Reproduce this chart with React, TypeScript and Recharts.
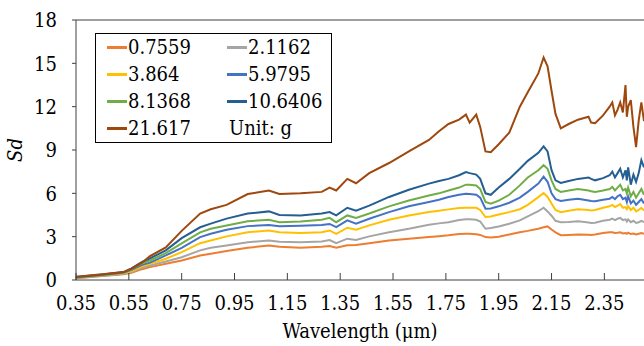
import { Legend, Line, LineChart, ReferenceLine, XAxis, YAxis } from 'recharts'

// 파장 (µm)
const WAVELENGTH = [
  0.35, 0.45, 0.53, 0.56, 0.6, 0.63, 0.69, 0.75, 0.82, 0.86,
  0.92, 1.0, 1.08, 1.12, 1.2, 1.28, 1.31, 1.335, 1.377, 1.41,
  1.46, 1.535, 1.61, 1.686, 1.724, 1.76, 1.8, 1.826, 1.84, 1.865,
  1.88, 1.9, 1.92, 1.95, 1.99, 2.03, 2.06, 2.1, 2.12, 2.135,
  2.15, 2.165, 2.185, 2.215, 2.25, 2.29, 2.3, 2.315, 2.345, 2.37,
  2.38, 2.39, 2.4, 2.41, 2.42, 2.43, 2.435, 2.44, 2.45, 2.46,
  2.47, 2.48, 2.49, 2.5,
]

const SD_0_7559 = [
  0.12, 0.28, 0.4, 0.5, 0.75, 0.89, 1.12, 1.35, 1.7, 1.82,
  2.0, 2.23, 2.39, 2.3, 2.23, 2.3, 2.35, 2.23, 2.41, 2.43,
  2.55, 2.74, 2.86, 2.97, 3.03, 3.09, 3.18, 3.2, 3.2, 3.17,
  3.12, 2.97, 2.95, 3.0, 3.15, 3.31, 3.4, 3.55, 3.65, 3.71,
  3.5, 3.3, 3.1, 3.12, 3.15, 3.13, 3.12, 3.15, 3.25, 3.31,
  3.3, 3.25, 3.27, 3.3, 3.22, 3.25, 3.2, 3.27, 3.18, 3.22,
  3.15, 3.2, 3.25, 3.2,
]

const SD_2_1162 = [
  0.14, 0.3, 0.44, 0.55, 0.85, 1.0, 1.28, 1.58, 2.05, 2.23,
  2.39, 2.62, 2.74, 2.65, 2.62, 2.67, 2.77, 2.55, 2.86, 2.77,
  3.02, 3.31, 3.55, 3.83, 3.92, 4.0, 4.15, 4.2, 4.2, 4.17,
  4.05, 3.55, 3.6, 3.71, 3.9, 4.13, 4.4, 4.77, 5.0, 4.75,
  4.45, 4.1, 4.0, 4.02, 4.06, 3.98, 3.95, 3.97, 4.1, 4.17,
  4.25, 4.15, 4.24, 4.3, 4.15, 4.2, 4.05, 4.2, 4.0, 4.1,
  3.95, 4.0, 4.1, 4.0,
]

const SD_3_864 = [
  0.15, 0.32, 0.47, 0.62, 0.95, 1.12, 1.47, 1.93, 2.55, 2.74,
  3.02, 3.31, 3.43, 3.31, 3.25, 3.31, 3.43, 3.2, 3.62, 3.48,
  3.78, 4.17, 4.47, 4.7, 4.8, 4.89, 4.98, 5.0, 5.0, 5.0,
  4.85, 4.36, 4.4, 4.54, 4.7, 4.9, 5.2, 5.74, 6.02, 5.75,
  5.3, 4.85, 4.7, 4.8, 4.9, 4.85, 4.82, 4.85, 5.0, 5.1,
  5.2, 5.05, 5.15, 5.25, 5.0, 5.05, 4.9, 5.1, 4.85, 5.0,
  4.75, 4.85, 5.0, 4.8,
]

const SD_5_9795 = [
  0.17, 0.34, 0.5, 0.7, 1.05, 1.2, 1.7, 2.23, 2.97, 3.2,
  3.48, 3.73, 3.8, 3.72, 3.75, 3.8, 3.88, 3.66, 4.13, 3.9,
  4.24, 4.7, 5.1, 5.4, 5.55, 5.74, 5.9, 5.97, 5.95, 5.9,
  5.7, 4.94, 4.95, 5.1, 5.35, 5.7, 6.1, 6.67, 7.15, 6.8,
  6.0, 5.6, 5.47, 5.55, 5.63, 5.5, 5.47, 5.45, 5.55, 5.63,
  5.75, 5.6, 5.8, 5.9, 5.6, 5.7, 5.4, 5.8, 5.3, 5.5,
  5.2, 5.4, 5.6, 5.3,
]

const SD_8_1368 = [
  0.18, 0.36, 0.52, 0.75, 1.15, 1.35, 1.86, 2.53, 3.3, 3.55,
  3.78, 4.07, 4.17, 4.0, 4.05, 4.17, 4.3, 4.0, 4.47, 4.3,
  4.6, 5.1, 5.5, 5.85, 6.0, 6.2, 6.4, 6.6, 6.6, 6.55,
  6.3, 5.4, 5.28, 5.5, 5.9, 6.55, 7.1, 7.6, 7.95, 7.7,
  6.9, 6.3, 6.1, 6.2, 6.3, 6.2, 6.15, 6.1, 6.2, 6.3,
  6.45, 6.2, 6.4, 6.6, 6.2, 6.3, 6.0, 6.4, 5.8, 6.1,
  5.7, 6.0, 6.3, 5.9,
]

const SD_10_6406 = [
  0.2, 0.38, 0.55, 0.8, 1.25, 1.5, 2.05, 2.9, 3.65, 3.9,
  4.25, 4.6, 4.75, 4.5, 4.47, 4.6, 4.7, 4.47, 5.0, 4.8,
  5.15, 5.75, 6.25, 6.67, 6.85, 7.0, 7.25, 7.47, 7.4, 7.3,
  7.0, 6.0, 5.9, 6.4, 7.0, 7.7, 8.25, 8.8, 9.25, 8.9,
  7.6, 6.9, 6.72, 6.85, 7.0, 7.1, 7.0, 6.9, 7.05, 7.25,
  7.5, 7.1, 7.4, 7.7, 7.1, 7.6, 6.9, 7.8, 6.6, 7.3,
  6.8, 7.4, 8.3, 7.8,
]

const SD_21_617 = [
  0.22, 0.4, 0.55, 0.78, 1.2, 1.65, 2.25, 3.4, 4.6, 4.9,
  5.2, 5.95, 6.2, 5.95, 6.0, 6.1, 6.4, 6.2, 7.0, 6.7,
  7.4, 8.1, 8.9, 9.7, 10.3, 10.8, 11.1, 11.45, 10.9, 11.45,
  10.6, 8.9, 8.85, 9.4, 10.2, 12.0, 13.0, 14.3, 15.4, 14.8,
  13.1, 11.5, 10.5, 10.8, 11.1, 11.3, 10.9, 10.85, 11.4, 12.0,
  12.3, 11.4, 11.8, 12.3, 11.6, 13.5, 11.3, 12.0, 12.45, 10.6,
  9.2, 11.05, 12.3, 11.0,
]

const X_TICKS = [0.35, 0.55, 0.75, 0.95, 1.15, 1.35, 1.55, 1.75, 1.95, 2.15, 2.35]
const Y_TICKS = [0, 3, 6, 9, 12, 15, 18]

const SERIES = [
  { key: 's0', name: '0.7559', color: '#ED7D31', values: SD_0_7559 },
  { key: 's1', name: '2.1162', color: '#A5A5A5', values: SD_2_1162 },
  { key: 's2', name: '3.864', color: '#FFC000', values: SD_3_864 },
  { key: 's3', name: '5.9795', color: '#4472C4', values: SD_5_9795 },
  { key: 's4', name: '8.1368', color: '#70AD47', values: SD_8_1368 },
  { key: 's5', name: '10.6406', color: '#255E91', values: SD_10_6406 },
  { key: 's6', name: '21.617', color: '#9E480E', values: SD_21_617 },
]

const DATA = WAVELENGTH.map((wl, i) => {
  const row: Record<string, number> = { wl }
  SERIES.forEach((s) => {
    row[s.key] = s.values[i]
  })
  return row
})

// Liberation Serif가 없어서 DejaVu Serif (condensed) 사용
const TEXT_STYLE = {
  fontFamily: '"DejaVu Serif Condensed", "DejaVu Serif"',
  fontStretch: 'semi-condensed',
} as const
const FS = 20
const AXIS = '#404040'

// 눈금선이 안쪽(위)으로 향하는 x축 눈금
function XTick({ x, y, payload }: { x: number; y: number; payload: { value: number } }) {
  return (
    <g>
      <line x1={x} x2={x} y1={y} y2={y - 7} stroke={AXIS} />
      <text x={x} y={y + 30} textAnchor="middle" fontSize={FS} style={TEXT_STYLE} fill="#000">
        {payload.value.toFixed(2)}
      </text>
    </g>
  )
}

function YTick({ x, y, payload }: { x: number; y: number; payload: { value: number } }) {
  return (
    <text x={x} y={y} dy="0.36em" textAnchor="end" fontSize={FS} style={TEXT_STYLE} fill="#000">
      {payload.value}
    </text>
  )
}

function LegendBox() {
  return (
    <div
      style={{
        ...TEXT_STYLE,
        border: '1px solid #000',
        display: 'grid',
        gridTemplateColumns: '120px auto',
        paddingLeft: 11,
        paddingRight: 9,
        fontSize: FS,
        lineHeight: '27px',
        color: '#000',
      }}
    >
      {SERIES.map((s) => (
        <div key={s.key} style={{ display: 'flex', alignItems: 'center' }}>
          <span style={{ display: 'inline-block', width: 20, height: 2.5, background: s.color, marginRight: 1 }} />
          <span>{s.name}</span>
        </div>
      ))}
      <div style={{ paddingLeft: 2 }}>Unit: g</div>
    </div>
  )
}

export default function App() {
  return (
    <div style={{ position: 'absolute', left: 0, top: 0, background: '#fff' }}>
      <LineChart width={644} height={346} data={DATA} margin={{ top: 20, right: 0, bottom: 0, left: 0 }}>
        <XAxis
          dataKey="wl"
          type="number"
          domain={[0.35, 2.5]}
          ticks={X_TICKS}
          allowDataOverflow
          height={66}
          stroke={AXIS}
          tickLine={false}
          tickSize={0}
          tickMargin={0}
          tick={XTick}
          label={{
            content: ({ viewBox }: any) => (
              <text
                x={viewBox.x + viewBox.width / 2}
                y={338}
                textAnchor="middle"
                fontSize={FS}
                style={TEXT_STYLE}
                fill="#000"
              >
                Wavelength (μm)
              </text>
            ),
          }}
        />
        <YAxis
          domain={[0, 18]}
          ticks={Y_TICKS}
          width={76}
          stroke={AXIS}
          tickSize={4}
          tickMargin={15}
          tick={YTick}
          label={{
            content: ({ viewBox }: any) => {
              const cx = 22
              const cy = viewBox.y + viewBox.height / 2
              return (
                <text
                  x={cx}
                  y={cy}
                  transform={`rotate(-90, ${cx}, ${cy})`}
                  textAnchor="middle"
                  fontSize={FS}
                  fontStyle="italic"
                  style={TEXT_STYLE}
                  fill="#000"
                >
                  Sd
                </text>
              )
            },
          }}
        />
        <ReferenceLine y={18} stroke={AXIS} />
        <Legend
          layout="horizontal"
          verticalAlign="middle"
          align="center"
          content={() => <LegendBox />}
          wrapperStyle={{ left: 95, top: 33, width: 'auto' }}
        />
        {SERIES.map((s) => (
          <Line
            key={s.key}
            type="linear"
            dataKey={s.key}
            name={s.name}
            stroke={s.color}
            strokeWidth={2}
            dot={false}
            isAnimationActive={false}
          />
        ))}
      </LineChart>
    </div>
  )
}
